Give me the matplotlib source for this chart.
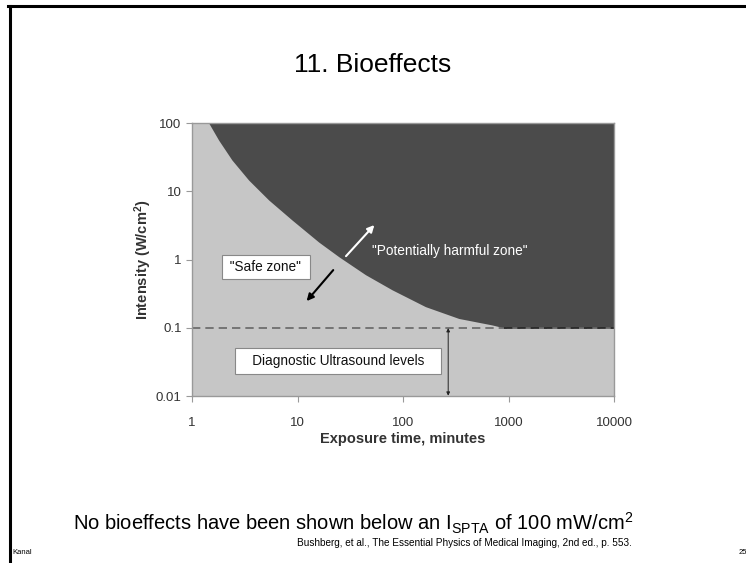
import numpy as np
import matplotlib
matplotlib.use("Agg")
import matplotlib.pyplot as plt

plt.rcParams['font.family'] = ['Liberation Sans', 'DejaVu Sans']
plt.rcParams['mathtext.fontset'] = 'custom'
plt.rcParams['mathtext.rm'] = 'Liberation Sans'

# boundary between safe and harmful zones
exposure_min = [1.44, 1.79, 2.39, 3.44, 5.33, 8.87, 15.9, 24.6, 44, 78.7, 163, 337, 698, 900, 10000]
intensity = [100, 56, 28.7, 14.6, 7.45, 3.79, 1.8, 1.1, 0.6, 0.36, 0.204, 0.137, 0.11, 0.1, 0.1]
diag_level = 0.1
x_ticks = [1, 10, 100, 1000, 10000]
y_ticks = [0.01, 0.1, 1, 10, 100]
x_labels = ['1', '10', '100', '1000', '10000']
y_labels = ['0.01', '0.1', '1', '10', '100']

fig = plt.figure(figsize=(7.46, 5.63), dpi=100)

# slide frame
fig.add_artist(plt.Line2D([0.011, 1.0], [0.990, 0.990], color='k', lw=2.2))
fig.add_artist(plt.Line2D([0.0134, 0.0134], [0.990, 0.0], color='k', lw=2.2))

fig.text(0.5, 0.885, '11. Bioeffects', ha='center', va='center', fontsize=19)

ax = fig.add_axes([0.2574, 0.2966, 0.5657, 0.4849])
ax.set_xscale('log')
ax.set_yscale('log')
ax.set_xlim(1, 10000)
ax.set_ylim(0.01, 100)
ax.set_facecolor('#c6c6c6')

ax.fill_between(exposure_min, intensity, 100, color='#4b4b4b', lw=0)
ax.plot([1, 10000], [diag_level, diag_level], ls=(0, (5, 3)), color='#666666', lw=1.2)
ax.plot([900, 10000], [diag_level, diag_level], ls=(0, (5, 3)), color='#262626', lw=1.2)

# vertical double arrow for diagnostic levels
ax.annotate('', xy=(268, 0.0101), xytext=(268, 0.099),
            arrowprops=dict(arrowstyle='<|-|>', color='#222222', lw=0.7,
                            mutation_scale=5, shrinkA=0, shrinkB=0))

ax.annotate('', xy=(53.5, 3.2), xytext=(28.8, 1.12),
            arrowprops=dict(arrowstyle='-|>', color='white', lw=1.5,
                            mutation_scale=10, shrinkA=0, shrinkB=0))
ax.annotate('', xy=(12.2, 0.246), xytext=(21.8, 0.70),
            arrowprops=dict(arrowstyle='-|>', color='black', lw=1.5,
                            mutation_scale=10, shrinkA=0, shrinkB=0))

ax.text(51, 1.35, '"Potentially harmful zone"', color='white', fontsize=9.8,
        ha='left', va='center')
ax.text(5.0, 0.78, ' "Safe zone" ', color='#111111', fontsize=9.8, ha='center', va='center',
        bbox=dict(boxstyle='square,pad=0.35', fc='white', ec='#888888', lw=0.8))
ax.text(24.2, 0.0326, '   Diagnostic Ultrasound levels   ', color='#111111', fontsize=9.8,
        ha='center', va='center',
        bbox=dict(boxstyle='square,pad=0.45', fc='white', ec='#888888', lw=0.8))

ax.set_xticks(x_ticks)
ax.set_xticklabels(x_labels)
ax.set_yticks(y_ticks)
ax.set_yticklabels(y_labels)
ax.minorticks_off()
ax.tick_params(axis='both', colors='#999999', labelcolor='#333333', labelsize=9.5,
               length=4, width=0.8, direction='out')
ax.tick_params(axis='x', pad=11)
for side in ['left', 'bottom', 'top', 'right']:
    ax.spines[side].set_color('#999999')
    ax.spines[side].set_linewidth(1.0)

ax.set_xlabel('Exposure time, minutes', fontsize=10.5, fontweight='bold', color='#333333', labelpad=2)
ax.set_ylabel('Intensity (W/cm$\\mathregular{^2}$)', fontsize=10.5, fontweight='bold',
              color='#333333', labelpad=1)

fig.text(0.098, 0.071, r'No bioeffects have been shown below an I$\mathregular{_{SPTA}}$ of 100 mW/cm$\mathregular{^2}$',
         ha='left', va='center', fontsize=14.5)
fig.text(0.847, 0.036, 'Bushberg, et al., The Essential Physics of Medical Imaging, 2nd ed., p. 553.',
         ha='right', va='center', fontsize=7.2)
fig.text(0.016, 0.018, 'Kanal', ha='left', va='center', fontsize=5.5)
fig.text(0.99, 0.018, '25', ha='left', va='center', fontsize=5.5)

fig.savefig('out.png', dpi=100)
